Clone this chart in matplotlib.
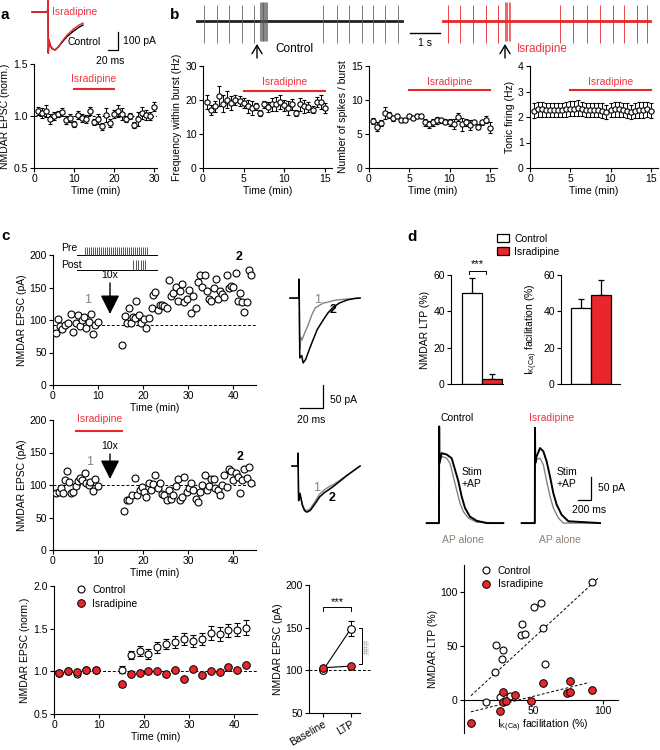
import matplotlib
matplotlib.use('Agg')
import matplotlib.pyplot as plt
from matplotlib.lines import Line2D
from matplotlib.patches import Patch

plt.rcParams['font.family'] = ['Liberation Sans', 'DejaVu Sans']
plt.rcParams['mathtext.fontset'] = 'custom'
plt.rcParams['mathtext.rm'] = 'Liberation Sans'
plt.rcParams['mathtext.it'] = 'Liberation Sans:italic'
plt.rcParams['font.size'] = 7.5
plt.rcParams['axes.linewidth'] = 0.8

RED = '#e8262b'
RED_TXT = '#ee3342'
GRAY = '#8c8275'

# ---------------- panel a ----------------
a_t = list(range(1, 31))
a_mean = [1.05, 1.03, 1.05, 0.97, 1.00, 1.02, 1.04, 0.96, 0.98, 0.92,
          1.01, 0.98, 0.97, 1.05, 0.94, 0.97, 0.90, 1.01, 0.93, 1.02,
          1.05, 1.02, 0.97, 1.00, 0.91, 0.97, 1.03, 1.01, 1.00, 1.09]
a_err = [0.04, 0.05, 0.06, 0.05, 0.04, 0.03, 0.04, 0.04, 0.04, 0.03,
         0.04, 0.04, 0.04, 0.04, 0.03, 0.05, 0.03, 0.07, 0.04, 0.04,
         0.06, 0.06, 0.03, 0.03, 0.03, 0.07, 0.06, 0.05, 0.04, 0.04]
a_drug = [10, 20]
# example EPSC (ms, pA)
a_tr_t = [4, 35, 36, 36.6, 38, 41, 45, 50, 56, 64, 74, 86, 98, 106]
a_tr_ctrl = [0, 0, 67, -228, -160, -190, -205, -210, -196, -168, -136, -108, -84, -72]
a_tr_isr = [0, 0, 67, -228, -150, -185, -203, -211, -195, -163, -128, -96, -72, -61]

# ---------------- panel b ----------------
b_t = [0.5, 1, 1.5, 2, 2.5, 3, 3.5, 4, 4.5, 5, 5.5, 6, 6.5, 7, 7.5,
       8, 8.5, 9, 9.5, 10, 10.5, 11, 11.5, 12, 12.5, 13, 13.5, 14, 14.5, 15]
b_freq = [19.4, 17.1, 18.1, 21.2, 18.9, 20.1, 19.1, 19.9, 19.7, 19.2,
          18.1, 17.7, 18.1, 16.2, 18.7, 17.9, 18.7, 18.9, 19.4, 18.4,
          17.7, 18.7, 16.2, 18.7, 18.1, 17.9, 17.2, 19.4, 19.4, 17.7]
b_freq_err = [2.0, 1.5, 1.5, 3.0, 2.5, 2.5, 2.0, 1.5, 1.5, 1.5,
              2.0, 2.0, 1.0, 0.8, 1.0, 1.5, 2.0, 2.0, 2.0, 1.5,
              2.0, 1.5, 1.0, 2.0, 2.0, 1.5, 1.0, 1.5, 2.0, 1.5]
b_spk = [6.9, 6.1, 6.6, 8.1, 7.8, 7.3, 7.6, 7.1, 7.1, 7.7,
         7.4, 7.6, 7.6, 6.7, 6.4, 6.7, 7.0, 7.0, 6.8, 6.7,
         6.5, 7.5, 6.4, 6.7, 6.3, 6.7, 6.1, 6.7, 7.1, 5.9]
b_spk_err = [0.5, 0.6, 0.4, 0.9, 0.5, 0.4, 0.3, 0.3, 0.3, 0.3,
             0.3, 0.3, 0.3, 0.5, 0.5, 0.5, 0.5, 0.4, 0.4, 0.5,
             0.7, 0.6, 0.9, 0.5, 0.7, 0.3, 0.4, 0.4, 0.5, 0.8]
b_tonic = [2.25, 2.30, 2.30, 2.28, 2.28, 2.27, 2.28, 2.28, 2.30, 2.32,
           2.33, 2.35, 2.30, 2.28, 2.28, 2.27, 2.27, 2.25, 2.20, 2.27,
           2.30, 2.30, 2.27, 2.25, 2.20, 2.25, 2.27, 2.27, 2.30, 2.25]
b_tonic_err = [0.30, 0.30, 0.30, 0.28, 0.28, 0.28, 0.28, 0.28, 0.30, 0.30,
               0.30, 0.30, 0.28, 0.28, 0.28, 0.28, 0.28, 0.28, 0.28, 0.28,
               0.30, 0.30, 0.28, 0.28, 0.28, 0.28, 0.30, 0.30, 0.30, 0.30]
b_drug = [5, 15]
# spike times of the example recordings (s)
b_ctrl_span = [0.23, 7.07]
b_ctrl_spikes = [0.47, 0.90, 1.30, 1.73, 2.13, 4.43, 4.90, 5.30, 5.73, 6.10, 6.50, 6.93]
b_ctrl_burst = [2.33, 2.36, 2.39, 2.42, 2.45, 2.48, 2.51, 2.54, 2.57]
b_isr_span = [8.43, 15.33]
b_isr_spikes = [8.60, 9.00, 9.43, 9.87, 10.27, 12.33, 12.77, 13.23, 13.67, 14.10, 14.47, 14.90, 15.23]
b_isr_burst = [10.50, 10.54, 10.58, 10.62, 10.66]

# ---------------- panel c ----------------
c1_t = [0.6, 1.1, 1.5, 2.1, 2.6, 3.3, 3.9, 4.4, 5.0, 5.6, 5.9, 6.4, 6.9, 7.4, 7.9,
        8.4, 8.9, 9.4, 9.9,
        15.4, 15.9, 16.4, 16.9, 17.4, 17.8, 18.1, 18.5, 19.1, 19.6, 20.1, 20.7, 21.3,
        21.9, 22.2, 22.7, 23.2, 23.7, 24.2, 24.7, 25.2, 25.7, 26.1, 26.7, 27.2, 27.6,
        28.1, 28.7, 29.1, 29.6, 30.1, 30.6, 31.1, 31.6, 32.1, 32.6, 33.1, 33.6, 34.1,
        34.6, 35.0, 35.6, 36.1, 36.5, 37.0, 37.5, 38.0, 38.5, 39.0, 39.5, 40.0, 40.5,
        41.0, 41.5, 42.0, 42.4, 43.0, 43.5, 43.9]
c1_y = [80, 101, 91, 86, 92, 96, 109, 82, 95, 108, 91, 100, 105, 87, 97,
        109, 79, 92, 97,
        61, 106, 96, 119, 95, 104, 103, 129, 108, 96, 101, 87, 103,
        119, 139, 143, 116, 123, 123, 121, 119, 162, 137, 141, 151, 130,
        145, 155, 127, 133, 146, 111, 137, 118, 159, 169, 151, 170, 144,
        133, 130, 150, 163, 132, 144, 140, 136, 169, 149, 152, 151, 173,
        129, 141, 127, 112, 128, 177, 169]
c1_base = 93

c2_t = [0.6, 1.3, 1.7, 2.2, 2.7, 3.2, 3.6, 4.0, 4.4, 5.0, 5.6, 5.9, 6.4, 7.0,
        7.4, 7.9, 8.3, 8.9, 9.4, 10.0,
        15.8, 16.3, 16.9, 17.6, 18.1, 18.7, 19.3, 19.8, 20.2, 20.7, 21.3, 21.7,
        22.2, 22.7, 23.2, 23.7, 24.2, 24.7, 25.2, 25.7, 26.1, 26.7, 27.2, 27.6,
        28.1, 28.7, 29.1, 29.6, 30.1, 30.6, 31.1, 31.6, 32.1, 32.6, 33.1, 33.6,
        34.1, 34.6, 35.0, 35.6, 36.0, 36.5, 37.0, 37.5, 38.0, 38.5, 39.0, 39.5,
        40.0, 40.5, 41.0, 41.5, 42.0, 42.4, 43.0, 43.5, 43.9]
c2_y = [87, 90, 95, 88, 108, 121, 105, 87, 90, 98, 106, 111, 108, 118,
        103, 100, 104, 91, 110, 99,
        60, 77, 77, 84, 111, 84, 92, 97, 90, 82, 103, 92,
        101, 115, 95, 103, 86, 85, 77, 92, 78, 85, 98, 110,
        77, 82, 113, 90, 96, 103, 92, 79, 74, 90, 100, 116,
        92, 98, 110, 110, 96, 92, 85, 100, 116, 97, 124, 121,
        108, 118, 113, 87, 108, 124, 111, 127, 103]
c2_drug = [5, 15.4]
c2_base = 100

c3_t = [1.2, 3.2, 5.2, 7.2, 9.2, 15.0, 17.0, 19.0, 20.9, 22.9, 24.9, 26.8,
        28.8, 30.8, 32.7, 34.7, 36.7, 38.6, 40.6, 42.6]
c3_ctrl = [0.98, 1.00, 0.97, 1.02, 1.02, 1.02, 1.19, 1.24, 1.20, 1.28, 1.32, 1.34,
           1.38, 1.36, 1.38, 1.45, 1.44, 1.48, 1.49, 1.51]
c3_ctrl_err = [0.02, 0.02, 0.03, 0.02, 0.02, 0.04, 0.05, 0.06, 0.06, 0.06, 0.06, 0.07,
               0.07, 0.07, 0.07, 0.08, 0.08, 0.08, 0.08, 0.09]
c3_isr = [0.98, 1.00, 0.99, 1.02, 1.01, 0.85, 0.97, 0.98, 1.00, 1.00, 0.97, 1.01,
          0.91, 1.03, 0.96, 1.00, 0.99, 1.05, 1.02, 1.07]
c3_isr_err = [0.02, 0.02, 0.02, 0.02, 0.02, 0.03, 0.02, 0.02, 0.02, 0.02, 0.02, 0.02,
              0.02, 0.02, 0.02, 0.02, 0.02, 0.02, 0.02, 0.02]

c4_labels = ['Baseline', 'LTP']
c4_ctrl = [100, 149]
c4_ctrl_err = [2, 9]
c4_isr = [103, 105]
c4_isr_err = [2, 3]

# example traces (ms, pA)
c_tr1_t2 = [4.3, 12.0, 12.2, 12.8, 14.5, 15.7, 18, 21, 24.3, 28, 33, 37, 41.7, 47, 54, 60, 65]
c_tr1_i2 = [0, 0, 41, -130, -125, -141, -133, -112, -91, -68, -48, -33, -20, -11, -4, -1, 0]
c_tr1_t1 = [4.3, 12.0, 12.2, 12.8, 13.8, 14.8, 17, 20, 23, 26, 29, 33, 37, 41, 45, 50, 55, 60, 65]
c_tr1_i1 = [0, 0, 41, -110, -85, -91, -76, -59, -38, -22, -17, -11, -9, -6, -4, -3, -2, -1, 0]
c_tr2_t2 = [6, 11.0, 11.3, 11.8, 13, 15, 17, 19, 22, 26, 30, 34, 38, 42, 48, 54, 60, 65]
c_tr2_i2 = [0, 0, 28, -75, -60, -85, -97, -100, -96, -82, -67, -58, -51, -44, -32, -20, -9, 0]
c_tr2_t1 = [6, 11.0, 11.3, 11.8, 13, 15, 17, 19, 22, 26, 30, 34, 38, 42, 48, 54, 60, 65]
c_tr2_i1 = [0, 0, 28, -75, -58, -82, -94, -97, -92, -77, -61, -52, -45, -40, -30, -19, -9, 0]

# pairing protocol (arbitrary time units)
pre_pulses = [8, 10, 12, 14, 16, 18, 20, 22, 24, 26, 28, 30, 32, 34, 36, 38,
              40, 42, 44, 46, 48, 50, 52, 54, 56, 58, 60, 62, 64, 66, 68, 70]
post_pulses = [56, 58.5, 61, 63.5, 66, 68]

# ---------------- panel d ----------------
d_groups = ['Control', 'Isradipine']
d_ltp = [50, 2.5]
d_ltp_err = [8.5, 3]
d_ik = [42, 49]
d_ik_err = [5, 8]

# IK(Ca) traces (ms, pA)
d_ctrl_t = [26, 215, 218, 222, 256, 333, 410, 462, 513, 564, 615, 692, 795, 949, 1205]
d_ctrl_i = [0, 0, 210, 130, 152, 149, 141, 116, 91, 58, 33, 14, 5, 0, 0]
d_ctrl_ap_t = [26, 215, 218, 222, 256, 333, 385, 436, 487, 539, 590, 667, 795, 1205]
d_ctrl_ap_i = [0, 0, 210, 130, 145, 141, 130, 101, 72, 43, 25, 11, 2, 0]
d_isr_t = [26, 228, 231, 235, 256, 308, 359, 410, 462, 513, 564, 641, 744, 1231]
d_isr_i = [0, 0, 207, 130, 145, 163, 156, 134, 101, 65, 40, 18, 4, 0]
d_isr_ap_t = [26, 228, 231, 235, 256, 308, 359, 410, 462, 513, 590, 667, 1231]
d_isr_ap_i = [0, 0, 207, 130, 138, 141, 127, 91, 58, 33, 11, 0, 0]

d_sc_ctrl_x = [92, 55, 50, 42, 57, 41, 44, 23, 28, 27, 22, 58, 16, 26, 33]
d_sc_ctrl_y = [109, 90, 86, 70, 67, 60, 61, 51, 46, 38, 26, 33, -2, 3, 4]
d_sc_isr_x = [5, 26, 28, 28, 30, 37, 48, 57, 76, 74, 76, 92]
d_sc_isr_y = [-21, -10, 7, -2, -1, 5, -1, 16, 18, 6, 7, 9]
d_fit_ctrl = [1.19, -2.0]   # slope, intercept
d_fit_ctrl_x = [5, 97]
d_fit_isr = [0.32, -12.6]
d_fit_isr_x = [5, 90]

# ---------------- layout helpers ----------------
W, H = 660, 750
fig = plt.figure(figsize=(W / 100, H / 100), dpi=100)


def box(x0, y0, x1, y1):
    return fig.add_axes([x0 / W, 1 - y1 / H, (x1 - x0) / W, (y1 - y0) / H])


def ftext(x, y, s, **kw):
    kw.setdefault('va', 'center')
    fig.text(x / W, 1 - y / H, s, **kw)


def farrow(x, y0, y1, style='->', ms=8, lw=0.9):
    fig.add_artist(matplotlib.patches.FancyArrowPatch(
        (x / W, 1 - y0 / H), (x / W, 1 - y1 / H), transform=fig.transFigure,
        arrowstyle=style, mutation_scale=ms, lw=lw, color='k',
        shrinkA=0, shrinkB=0))


def prism(ax):
    for s in ('top', 'right'):
        ax.spines[s].set_visible(False)
    ax.tick_params(direction='out', length=3, width=0.8, labelsize=7.5, pad=1.5)


def open_err(ax, x, y, e, ms=3.8, cap=1.5):
    ax.errorbar(x, y, yerr=e, fmt='o', ms=ms, mfc='white', mec='k', mew=0.8,
                ecolor='k', elinewidth=0.7, capsize=cap, capthick=0.7, zorder=3)


dash = (0, (3, 2))

# ---------------- panel a ----------------
ax = box(34, 64, 157, 168)
prism(ax)
open_err(ax, a_t, a_mean, a_err)
ax.axhline(1.0, ls=dash, color='k', lw=0.7, zorder=1)
ax.plot(a_drug, [1.26, 1.26], color=RED, lw=1.5)
ax.text(sum(a_drug) / 2, 1.36, 'Isradipine', color=RED_TXT, ha='center', va='center')
ax.set_xlim(0, 30.75)
ax.set_ylim(0.5, 1.5)
ax.set_xticks([0, 10, 20, 30])
ax.set_yticks([0.5, 1.0, 1.5])
ax.set_yticklabels(['0.5', '1.0', '1.5'])
ax.set_xlabel('Time (min)', labelpad=1)
ax.set_ylabel('NMDAR EPSC (norm.)', labelpad=2)

ax = box(30, 0, 160, 62)
ax.axis('off')
ax.set_xlim(0, 260)
ax.set_ylim(-277, 67)
ax.plot(a_tr_t, a_tr_ctrl, color='k', lw=1.0)
ax.plot(a_tr_t, a_tr_isr, color=RED, lw=1.0)
ax.plot([156, 176, 176], [-211, -211, -111], color='k', lw=0.9)
ftext(52, 12, 'Isradipine', color=RED_TXT)
ftext(68, 42, 'Control')
ftext(123, 41, '100 pA')
ftext(110, 61, '20 ms', ha='center')

# ---------------- panel b ----------------
ax = box(190, 0, 660, 45)
ax.axis('off')
ax.set_xlim(0, 15.67)
ax.set_ylim(-24, 21)
ax.plot(b_ctrl_span, [0, 0], color='#222222', lw=2.0)
ax.vlines(b_ctrl_spikes, -22, 16, color='#666666', lw=0.6)
ax.vlines(b_ctrl_burst, -20, 19, color='#555555', lw=0.5)
ax.plot(b_isr_span, [0, 0], color=RED, lw=2.0)
ax.vlines(b_isr_spikes, -22, 16, color=RED, lw=0.6)
ax.vlines(b_isr_burst, -20, 19, color=RED, lw=0.5)
ax.plot([7.33, 8.33], [-12, -12], color='k', lw=1.0)
ftext(425, 43, '1 s', ha='center')
farrow(257, 58, 44, style='->,head_length=0.5,head_width=0.3', ms=12, lw=1.0)
ftext(275, 49, 'Control', fontsize=8.5)
farrow(505, 58, 44, style='->,head_length=0.5,head_width=0.3', ms=12, lw=1.0)
ftext(517, 49, 'Isradipine', color=RED_TXT, fontsize=8.5)

b_specs = [
    ((203, 66, 332, 168), b_freq, b_freq_err, 30, [0, 10, 20, 30], 'Frequency within burst (Hz)', 22.7),
    ((369, 66, 497, 168), b_spk, b_spk_err, 15, [0, 5, 10, 15], 'Number of spikes / burst', 11.4),
    ((530, 66, 658, 168), b_tonic, b_tonic_err, 4, [0, 1, 2, 3, 4], 'Tonic firing (Hz)', 3.04),
]
for bx, vals, errs, ymax, yt, ylab, ybar in b_specs:
    ax = box(*bx)
    prism(ax)
    open_err(ax, b_t, vals, errs)
    ax.plot(b_drug, [ybar, ybar], color=RED, lw=1.5)
    ax.text(10, ybar + ymax * 0.085, 'Isradipine', color=RED_TXT, ha='center', va='center')
    ax.set_xlim(0, 15.9)
    ax.set_ylim(0, ymax)
    ax.set_xticks([0, 5, 10, 15])
    ax.set_yticks(yt)
    ax.set_xlabel('Time (min)', labelpad=1)
    ax.set_ylabel(ylab, labelpad=2)

# ---------------- panel c ----------------
for bx, tt, yy, base in [((53, 255, 256, 385), c1_t, c1_y, c1_base),
                          ((53, 420, 256, 550), c2_t, c2_y, c2_base)]:
    ax = box(*bx)
    prism(ax)
    ax.plot(tt, yy, 'o', ms=5, mfc='white', mec='k', mew=0.8, zorder=3)
    ax.axhline(base, ls=dash, color='k', lw=0.7, zorder=1)
    ax.set_xlim(0, 45)
    ax.set_ylim(0, 200)
    ax.set_xticks([0, 10, 20, 30, 40])
    ax.set_yticks([0, 50, 100, 150, 200])
    ax.set_xlabel('Time (min)', labelpad=1)
    ax.set_ylabel('NMDAR EPSC (pA)', labelpad=2)
    if tt is c2_t:
        ax.plot(c2_drug, [183, 183], color=RED, lw=1.5, clip_on=False)

ftext(100, 419, 'Isradipine', color=RED_TXT, ha='center')
for yarr, ylen, ytxt, lab1, lab2 in [(283, 31, 275, (88, 300), (239, 257)),
                                     (454, 25, 446, (90, 462), (240, 457))]:
    farrow(110, yarr, yarr + ylen, style='-|>,head_length=0.9,head_width=0.45', ms=13, lw=1.0)
    ftext(110, ytxt, '10x', ha='center')
    ftext(lab1[0], lab1[1], '1', color=GRAY, ha='center', fontsize=9)
    ftext(lab2[0], lab2[1], '2', ha='center', fontsize=9, fontweight='bold')

# pairing protocol inset
ax = box(77, 243, 160, 272)
ax.axis('off')
ax.set_xlim(0, 83)
ax.set_ylim(0, 29)
ax.plot([0, 80], [17, 17], color='k', lw=0.7)
ax.vlines(pre_pulses, 17, 25, color='#555555', lw=0.7)
ax.plot([0, 80], [2, 2], color='k', lw=0.7)
ax.vlines(post_pulses, 2, 12, color='#555555', lw=0.7)
ftext(61, 248, 'Pre')
ftext(61, 265, 'Post')

# normalized summary
ax = box(54, 586, 257, 714)
prism(ax)
open_err(ax, c3_t, c3_ctrl, c3_ctrl_err, ms=5, cap=2)
ax.errorbar(c3_t, c3_isr, yerr=c3_isr_err, fmt='o', ms=5.5, mfc=RED, mec='k', mew=0.7,
            ecolor='k', elinewidth=0.7, capsize=2, zorder=4)
ax.axhline(1.0, ls=dash, color='k', lw=0.7, zorder=1)
ax.set_xlim(0, 45)
ax.set_ylim(0.5, 2.0)
ax.set_xticks([0, 10, 20, 30, 40])
ax.set_yticks([0.5, 1.0, 1.5, 2.0])
ax.set_yticklabels(['0.5', '1.0', '1.5', '2.0'])
ax.set_xlabel('Time (min)', labelpad=1)
ax.set_ylabel('NMDAR EPSC (norm.)', labelpad=2)
hs = [Line2D([], [], ls='', marker='o', ms=5, mfc='white', mec='k', mew=0.8),
      Line2D([], [], ls='', marker='o', ms=5.5, mfc=RED, mec='k', mew=0.7)]
ax.legend(hs, d_groups, loc='upper left', bbox_to_anchor=(0.06, 1.04), frameon=False,
          handletextpad=0.1, labelspacing=0.35, fontsize=7.5, borderaxespad=0)

# baseline vs LTP
ax = box(309, 585, 360, 713)
prism(ax)
ax.plot([0, 1], c4_ctrl, color='k', lw=0.8, zorder=2)
ax.plot([0, 1], c4_isr, color='k', lw=0.8, zorder=2)
open_err(ax, [0, 1], c4_ctrl, c4_ctrl_err, ms=5.5, cap=2)
ax.errorbar([0, 1], c4_isr, yerr=c4_isr_err, fmt='o', ms=5.5, mfc=RED, mec='k', mew=0.7,
            ecolor='k', elinewidth=0.7, capsize=2, zorder=4)
ax.plot([-0.5, 1.68], [100, 100], ls=dash, color='k', lw=0.7, zorder=1, clip_on=False)
ax.plot([0, 0, 1, 1], [169, 174, 174, 169], color='k', lw=0.7)
ax.text(0.5, 180, '***', ha='center', va='center', fontsize=8)
ax.plot([1.3, 1.39, 1.39, 1.3], [150, 150, 107, 107], color='k', lw=0.7, clip_on=False)
ax.text(1.6, 128, '###', color='#999999', rotation=90, ha='center', va='center', fontsize=6.5)
ax.set_xlim(-0.5, 1.32)
ax.set_ylim(50, 200)
ax.set_yticks([50, 100, 150, 200])
ax.set_xticks([0, 1])
ax.set_xticklabels(c4_labels, rotation=30, ha='right', rotation_mode='anchor')
ax.set_ylabel('NMDAR EPSC (pA)', labelpad=2)

# EPSC traces
ax = box(285, 270, 375, 420)
ax.axis('off')
ax.set_xlim(0, 78)
ax.set_ylim(-265, 61)
ax.plot(c_tr1_t1, c_tr1_i1, color=GRAY, lw=1.0)
ax.plot(c_tr1_t2, c_tr1_i2, color='k', lw=1.1)
ax.plot([13, 33, 33], [-239, -239, -189], color='k', lw=0.9)
ftext(330, 400, '50 pA')
ftext(297, 420, '20 ms')
ftext(318, 300, '1', color=GRAY, ha='center', fontsize=9)
ftext(333, 310, '2', ha='center', fontsize=9, fontweight='bold')

ax = box(285, 440, 375, 520)
ax.axis('off')
ax.set_xlim(0, 78)
ax.set_ylim(-117, 56.5)
ax.plot(c_tr2_t1, c_tr2_i1, color=GRAY, lw=1.0)
ax.plot(c_tr2_t2, c_tr2_i2, color='k', lw=1.1)
ftext(317, 488, '1', color=GRAY, ha='center', fontsize=9)
ftext(332, 498, '2', ha='center', fontsize=9, fontweight='bold')

# ---------------- panel d ----------------
for bx, vals, errs, ylab, xl in [((451, 275, 503, 384), d_ltp, d_ltp_err, 'NMDAR LTP (%)', (-1.05, 1.55)),
                                  ((561, 275, 620, 384), d_ik, d_ik_err,
                                   r'I$_{\mathrm{K(Ca)}}$ facilitation (%)', (-1.0, 1.95))]:
    ax = box(*bx)
    prism(ax)
    ax.bar([0, 1], vals, width=1.0, color=['white', RED], edgecolor='k', lw=0.9, zorder=2)
    ax.errorbar([0, 1], vals, yerr=[[0, 0], errs], fmt='none', ecolor='k', elinewidth=0.9,
                capsize=2.5, capthick=0.9, zorder=1)
    ax.set_xlim(*xl)
    ax.set_ylim(0, 60)
    ax.set_yticks([0, 20, 40, 60])
    ax.set_xticks([])
    ax.set_ylabel(ylab, labelpad=2)
    if vals is d_ltp:
        ax.plot([-0.15, -0.15, 0.7, 0.7], [60.5, 62.2, 62.2, 60.5], color='k', lw=0.7, clip_on=False)
        ax.text(0.28, 66, '***', ha='center', va='center', fontsize=8)
        ax.legend([Patch(fc='white', ec='k', lw=0.9), Patch(fc=RED, ec='k', lw=0.9)], d_groups,
                  loc='lower left', bbox_to_anchor=(0.8, 1.13), frameon=False,
                  handlelength=1.2, handleheight=0.8, handletextpad=0.5, labelspacing=0.3,
                  borderaxespad=0, fontsize=7.5)

ax = box(425, 420, 510, 530)
ax.axis('off')
ax.set_xlim(0, 1308)
ax.set_ylim(-15, 224)
ax.plot(d_ctrl_ap_t, d_ctrl_ap_i, color=GRAY, lw=1.0)
ax.plot(d_ctrl_t, d_ctrl_i, color='k', lw=1.4)

ax = box(520, 420, 605, 530)
ax.axis('off')
ax.set_xlim(0, 1308)
ax.set_ylim(-15, 224)
ax.plot(d_isr_ap_t, d_isr_ap_i, color=GRAY, lw=1.0)
ax.plot(d_isr_t, d_isr_i, color='k', lw=1.4)
ax.plot([892, 1092, 1092], [50, 50, 100], color='k', lw=0.9, clip_on=False)

ftext(457, 418, 'Control', ha='center')
ftext(552, 418, 'Isradipine', color=RED_TXT, ha='center')
for xs in (462, 557):
    ftext(xs, 478, 'Stim\n+AP', linespacing=1.3)
ftext(463, 540, 'AP alone', color=GRAY, ha='center')
ftext(560, 540, 'AP alone', color=GRAY, ha='center')
ftext(598, 488, '50 pA')
ftext(589, 510, '200 ms', ha='center')

# scatter
ax = box(464, 565, 618, 733)
ax.spines['top'].set_visible(False)
ax.spines['right'].set_visible(False)
ax.spines['bottom'].set_position(('data', 0))
ax.tick_params(direction='out', length=3, width=0.8, labelsize=7.5, pad=1.5)
ax.plot(d_sc_ctrl_x, d_sc_ctrl_y, 'o', ms=5, mfc='white', mec='k', mew=0.8, zorder=3)
ax.plot(d_sc_isr_x, d_sc_isr_y, 'o', ms=5.5, mfc=RED, mec='k', mew=0.7, zorder=3)
for fit, xr in [(d_fit_ctrl, d_fit_ctrl_x), (d_fit_isr, d_fit_isr_x)]:
    ax.plot(xr, [fit[0] * v + fit[1] for v in xr], ls=dash, color='k', lw=0.7, zorder=2)
ax.set_xlim(0, 110.7)
ax.set_ylim(-30.6, 125)
ax.set_xticks([50, 100])
ax.set_yticks([0, 50, 100])
ax.set_ylabel('NMDAR LTP (%)', labelpad=2)
ax.set_xlabel(r'I$_{\mathrm{K(Ca)}}$ facilitation (%)', labelpad=1)
ax.xaxis.set_label_coords(0.51, 0.09)
hs = [Line2D([], [], ls='', marker='o', ms=5, mfc='white', mec='k', mew=0.8),
      Line2D([], [], ls='', marker='o', ms=5.5, mfc=RED, mec='k', mew=0.7)]
ax.legend(hs, d_groups, loc='upper left', bbox_to_anchor=(0.05, 1.02), frameon=False,
          handletextpad=0.1, labelspacing=0.35, fontsize=7.5, borderaxespad=0)

# panel letters
for lx, ly, s in [(5, 15, 'a'), (175, 15, 'b'), (6, 236, 'c'), (412, 237, 'd')]:
    ftext(lx, ly, s, fontsize=11, fontweight='bold', ha='center')

fig.savefig('out.png', dpi=100)
